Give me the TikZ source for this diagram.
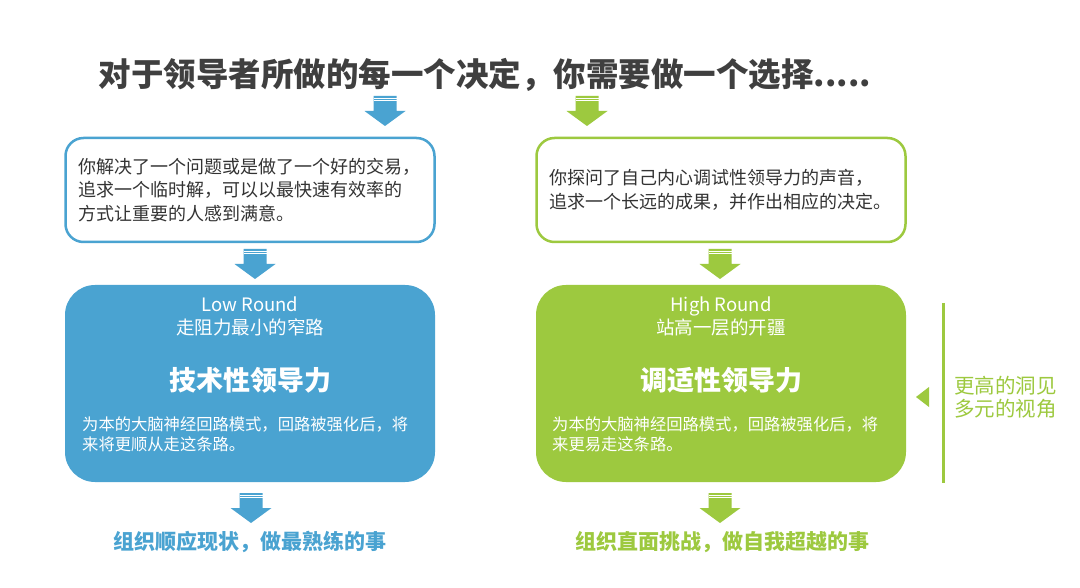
\documentclass[tikz,border=0pt]{standalone}
\usepackage{fontspec}
\setmainfont{Noto Sans CJK SC}
\usepackage{tikz}
\usetikzlibrary{positioning}
\definecolor{leadblue}{HTML}{4AA3D1}
\definecolor{leadgreen}{HTML}{9DC93F}
\definecolor{titlegray}{HTML}{3F3F3F}
\definecolor{bodygray}{HTML}{333333}
\tikzset{
  downarrow/.pic={
    \fill[#1] (-11.5,0) -- (11.5,0) -- (11.5,15) -- (20.5,15) -- (0,30) -- (-20.5,15) -- (-11.5,15) -- cycle;
    \draw[white, line width=0.9pt] (-11.5,2) -- (11.5,2);
    \draw[white, line width=0.9pt] (-11.5,4.6) -- (11.5,4.6);
  }
}

\begin{document}
\begin{tikzpicture}[x=1pt, y=-1pt,
  askbox/.style={draw=#1, line width=2.5pt, fill=white, rounded corners=18pt,
    minimum width=369pt, minimum height=104pt, inner xsep=13pt, text width=343pt,
    align=left, text=bodygray, font=\fontsize{18}{23.5}\selectfont},
  leadbox/.style={fill=#1, rounded corners=30pt, minimum width=370pt, minimum height=197pt},
  headtext/.style={text=white, align=center, font=\fontsize{18.5}{23}\selectfont},
  nametext/.style={text=white, font=\fontsize{27}{32}\selectfont\bfseries},
  desctext/.style={text=white, inner sep=0pt, text width=332pt, align=left,
    font=\fontsize{16.3}{19.5}\selectfont},
  outtext/.style={text=#1, font=\fontsize{21}{25}\selectfont\bfseries}]
  \fill[white] (0,0) rectangle (1080,588);
  \useasboundingbox (0,0) rectangle (1080,588);

  \node[text=titlegray, font=\fontsize{32.5}{36}\selectfont\bfseries] (title) at (485,75)
    {对于领导者所做的每一个决定，你需要做一个选择.....};

  % the two questions
  \node[askbox=leadblue] (lowask) at (250,190)
    {你解决了一个问题或是做了一个好的交易，\\追求一个临时解，可以以最快速有效率的\\方式让重要的人感到满意。};
  \node[askbox=leadgreen] (highask) at (721,190)
    {你探问了自己内心调试性领导力的声音，\\追求一个长远的成果，并作出相应的决定。};

  % the two leadership boxes
  \node[leadbox=leadblue] (lowbox) at (250,383.5) {};
  \node[leadbox=leadgreen] (highbox) at (721,383.5) {};
  \node[headtext] (lowhead) at (250,316.5) {Low Round\\走阻力最小的窄路};
  \node[headtext] (highhead) at (721,316.5) {High Round\\站高一层的开疆};
  \node[nametext] (lowname) at (250,380) {技术性领导力};
  \node[nametext] (highname) at (721,380) {调适性领导力};
  \node[desctext, anchor=west] (lowdesc) at (82,434.5)
    {为本的大脑神经回路模式，回路被强化后，将\\来将更顺从走这条路。};
  \node[desctext, anchor=west] (highdesc) at (552,434.5)
    {为本的大脑神经回路模式，回路被强化后，将\\来更易走这条路。};

  % outcomes
  \node[outtext=leadblue] (lowout) at (250,542) {组织顺应现状，做最熟练的事};
  \node[outtext=leadgreen] (highout) at (722,542) {组织直面挑战，做自我超越的事};

  % side note
  \node[text=leadgreen, anchor=west, align=left, inner sep=0pt,
    font=\fontsize{20.5}{23}\selectfont] (note) at (954,397) {更高的洞见\\多元的视角};
  \draw[leadgreen, line width=3pt] (943,303) -- (943,483);
  \fill[leadgreen] (916,397) -- (929,387) -- (929,407) -- cycle;

  % block arrows
  \pic at (385,96) {downarrow=leadblue};
  \pic at (587,96) {downarrow=leadgreen};
  \pic at (255,249) {downarrow=leadblue};
  \pic at (720,249) {downarrow=leadgreen};
  \pic at (251,493) {downarrow=leadblue};
  \pic at (720,493) {downarrow=leadgreen};
\end{tikzpicture}
\end{document}
